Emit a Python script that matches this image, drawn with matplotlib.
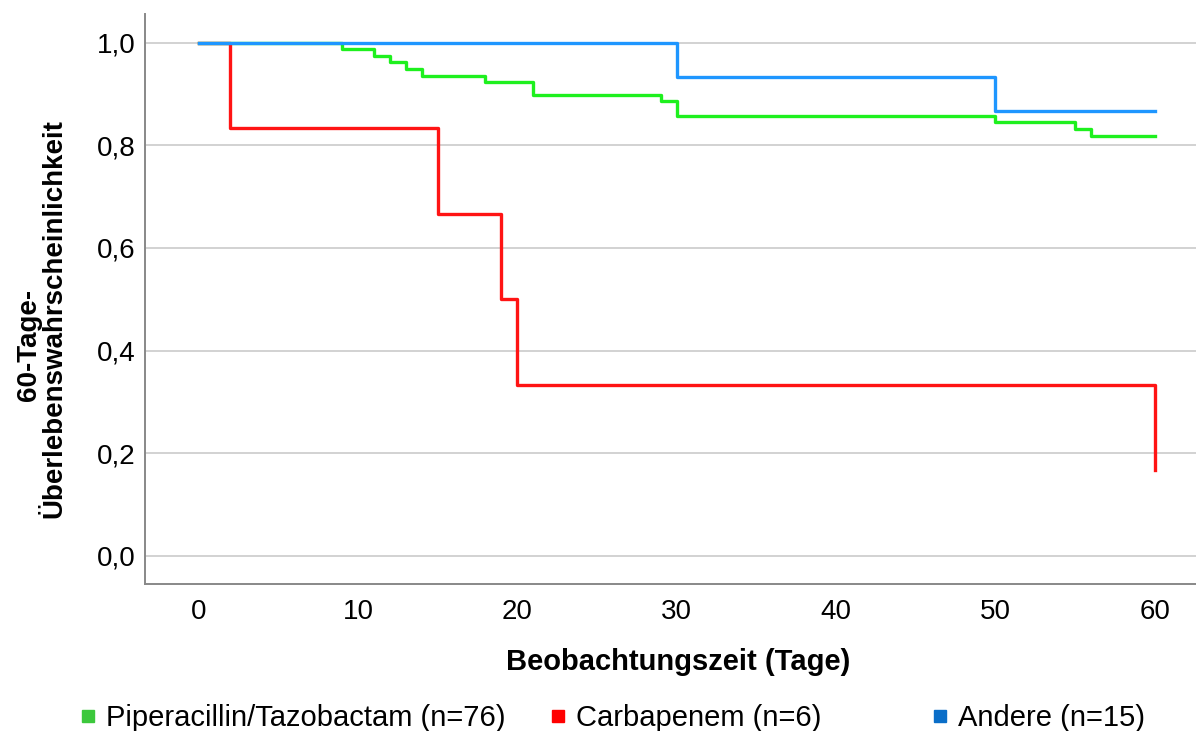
import matplotlib
matplotlib.use('Agg')
import matplotlib.pyplot as plt
from matplotlib.lines import Line2D
from matplotlib.ticker import FuncFormatter

plt.rcParams['font.family'] = ['Liberation Sans', 'DejaVu Sans']

# Kaplan-Meier curves (time in days, survival probability)
pip_days = [0, 9, 11, 12, 13, 14, 18, 21, 29, 30, 50, 55, 56, 60]
pip_surv = [1.0, 0.988, 0.975, 0.962, 0.948, 0.936, 0.923, 0.899, 0.886, 0.858, 0.845, 0.832, 0.819, 0.819]

carb_days = [0, 2, 15, 19, 20, 60]
carb_surv = [1.0, 0.833, 0.667, 0.5, 0.333, 0.167]

andere_days = [0, 30, 50, 60]
andere_surv = [1.0, 0.933, 0.867, 0.867]

labels = ['Piperacillin/Tazobactam (n=76)', 'Carbapenem (n=6)', 'Andere (n=15)']
line_colors = ['#1EF01E', '#FF1414', '#1E96FF']
legend_colors = ['#3CC83C', '#FF0000', '#0A6EC8']

xticks = [0, 10, 20, 30, 40, 50, 60]
yticks = [0.0, 0.2, 0.4, 0.6, 0.8, 1.0]

W, H = 1196, 731
fig = plt.figure(figsize=(W / 100, H / 100), dpi=100)
ax = fig.add_axes([145 / W, 1 - 584 / H, 1 - 145 / W, (584 - 14) / H])

ax.step(pip_days, pip_surv, where='post', color=line_colors[0], lw=2.4)
ax.step(carb_days, carb_surv, where='post', color=line_colors[1], lw=2.4)
ax.step(andere_days, andere_surv, where='post', color=line_colors[2], lw=2.4)

ax.set_xlim(-3.36, 62.6)
ax.set_ylim(-0.055, 1.056)
ax.set_xticks(xticks)
ax.set_yticks(yticks)
ax.yaxis.set_major_formatter(FuncFormatter(lambda v, p: ('%.1f' % v).replace('.', ',')))
ax.tick_params(length=0, labelsize=20, colors='#000000')
ax.tick_params(axis='y', pad=7)
ax.tick_params(axis='x', pad=11)

ax.grid(axis='y', color='#D2D2D2', lw=1.4)
ax.set_axisbelow(True)
for s in ['top', 'right']:
    ax.spines[s].set_visible(False)
for s in ['left', 'bottom']:
    ax.spines[s].set_color('#888888')
    ax.spines[s].set_linewidth(1.4)

# y label, two lines as SPSS wraps it
fig.text(29 / W, 1 - 345 / H, '60-Tage-', rotation=90, ha='center', va='center',
         fontsize=20, fontweight='bold')
fig.text(54 / W, 1 - 319 / H, 'Überlebenswahrscheinlichkeit', rotation=90,
         ha='center', va='center', fontsize=20, fontweight='bold')
fig.text(678 / W, 1 - 662 / H, 'Beobachtungszeit (Tage)', ha='center', va='center',
         fontsize=21, fontweight='bold')

# legend: one entry per slot, SPSS style spacing
legend_x = [62 / W, 532 / W, 914 / W]
for lab, col, lx in zip(labels, legend_colors, legend_x):
    h = Line2D([], [], marker='s', ls='', color=col, markersize=8)
    fig.legend([h], [lab], loc='center left', bbox_to_anchor=(lx, 1 - 718 / H),
               frameon=False, fontsize=21, handletextpad=0.1, borderaxespad=0,
               handlelength=1.0)

fig.savefig('out.png', dpi=100)
